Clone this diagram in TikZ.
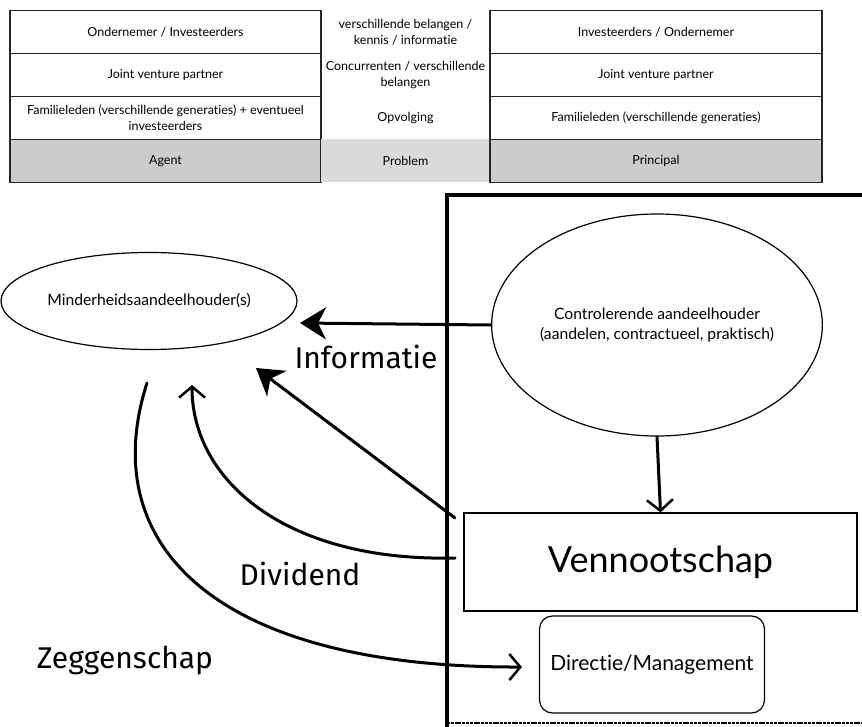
\documentclass[tikz,border=0pt]{standalone}
\usepackage{fontspec}
\setmainfont{Lato}[RawFeature={-liga;-dlig;-calt}]
\newfontfamily\hand{Fira Sans}[Ligatures=NoCommon]
\usetikzlibrary{shapes.geometric,arrows.meta}
\begin{document}
\begin{tikzpicture}[x=1pt,y=-1pt,
  cell/.style={draw=black!85,line width=1.1pt,inner sep=2pt,align=center,font=\fontsize{12.5}{16}\selectfont},
  mid/.style={inner sep=1pt,align=center,font=\fontsize{12.5}{16}\selectfont},
  hd/.style={fill=black!20},
  frame/.style={line width=3.5pt,line cap=round},
  harrow/.style={line width=3pt,line cap=round},
  filledhead/.style={-{Stealth[length=26pt,width=32pt,inset=8pt]}},
  openhead/.style={-{Straight Barb[length=11pt,width=26pt,line width=2.5pt]}},
  lbl/.style={font=\hand\fontsize{30}{33}\selectfont,inner sep=0pt},
  bodytxt/.style={font=\fontsize{15.7}{20}\selectfont,align=center}]
\useasboundingbox (0,0) rectangle (862,727);
\fill[white] (0,0) rectangle (862,727);
% ---- table ----
\node[cell,minimum width=311pt,minimum height=43pt] (l1) at (165.5,32) {Ondernemer / Investeerders};
\node[cell,minimum width=311pt,minimum height=43pt] (l2) at (165.5,75) {Joint venture partner};
\node[cell,minimum width=311pt,minimum height=43pt] (l3) at (165.5,118) {Familieleden (verschillende generaties) + eventueel\\investeerders};
\node[cell,hd,minimum width=311pt,minimum height=43pt] (l4) at (165.5,161) {Agent};
\fill[black!14] (321,139.5) rectangle (490,182.5);
\node[mid] (m1) at (405.5,32) {verschillende belangen /\\kennis / informatie};
\node[mid] (m2) at (405.5,75) {Concurrenten / verschillende\\belangen};
\node[mid] (m3) at (405.5,118) {Opvolging};
\node[mid] (m4) at (405.5,161) {Problem};
\node[cell,minimum width=332pt,minimum height=43pt] (r1) at (656,32) {Investeerders / Ondernemer};
\node[cell,minimum width=332pt,minimum height=43pt] (r2) at (656,75) {Joint venture partner};
\node[cell,minimum width=332pt,minimum height=43pt] (r3) at (656,118) {Familieleden (verschillende generaties)};
\node[cell,hd,minimum width=332pt,minimum height=43pt] (r4) at (656,161) {Principal};
% ---- frame ----
\draw[frame] (447,727) -- (447,195) -- (866,195);
\draw[line width=1.6pt,dash pattern=on 3pt off 0.8pt] (447,723) -- (862,723);
% ---- nodes ----
\node[draw,ellipse,line width=1.2pt,minimum width=296pt,minimum height=97pt,inner sep=0pt,bodytxt] (min) at (149,301) {Minderheidsaandeelhouder(s)};
\node[draw,ellipse,line width=1.2pt,minimum width=316pt,minimum height=222pt,inner sep=0pt,bodytxt] (ctrl) at (657,325) {Controlerende aandeelhouder\\(aandelen, contractueel, praktisch)};
\node[draw,line width=1.2pt,minimum width=393pt,minimum height=98pt,font=\fontsize{36}{40}\selectfont] (ven) at (660.5,562) {Vennootschap};
\node[draw,line width=1.2pt,rounded corners=13pt,minimum width=225pt,minimum height=97pt,font=\fontsize{21}{24}\selectfont] (dir) at (652,664.5) {Directie/Management};
% ---- connector ends ----
\coordinate (infotip) at (300,323);
\coordinate (diagstart) at (455,518);
\coordinate (diagtip) at (256,368);
\coordinate (divstart) at (455,558);
\coordinate (divtip) at (192,385);
\coordinate (zegstart) at (147,383);
\coordinate (zegtip) at (522,667);
% ---- arrows ----
\draw[harrow,filledhead] (ctrl.west) -- (infotip);
\draw[harrow,filledhead] (diagstart) -- (diagtip);
\draw[harrow,openhead] (divstart) .. controls (285,562) and (192,480) .. (divtip);
\draw[harrow,openhead] (zegstart) .. controls (95,545) and (215,668) .. (zegtip);
\draw[harrow,openhead] (ctrl.south) -- (ven.north);
% ---- labels ----
\node[lbl] (linfo) at (366,357) {Informatie};
\node[lbl] (ldiv) at (300,574) {Dividend};
\node[lbl] (lzeg) at (125,660) {Zeggenschap};
\end{tikzpicture}
\end{document}
